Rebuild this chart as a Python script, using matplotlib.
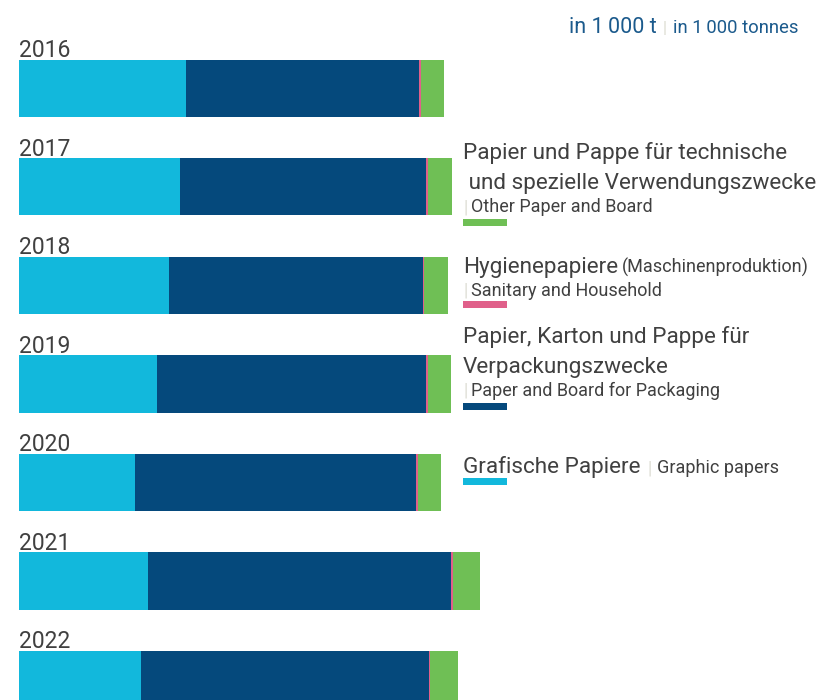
import numpy as np
import matplotlib.pyplot as plt

# production in 1000 t
years = ['2016', '2017', '2018', '2019', '2020', '2021', '2022']
grafisch = [1920, 1852, 1725, 1587, 1334, 1484, 1403]
verpackung = [2680, 2829, 2921, 3094, 3232, 3485, 3312]
hygiene = [23, 23, 12, 23, 23, 23, 12]
technisch = [265, 276, 276, 265, 265, 311, 322]

c_cyan = '#12b8dc'
c_navy = '#05497c'
c_pink = '#e0608a'
c_green = '#6fbf55'
c_text = '#404040'
c_sep = '#dcdcd2'

plt.rcParams['font.family'] = ['Roboto', 'DejaVu Sans']

W, H = 821, 700
fig = plt.figure(figsize=(W / 100, H / 100), dpi=100)
ax = fig.add_axes([0, 0, 1, 1])

k = 11.5  # 1000 t per pixel
y = np.arange(len(years))
left = np.zeros(len(years))
for vals, col in [(grafisch, c_cyan), (verpackung, c_navy), (hygiene, c_pink), (technisch, c_green)]:
    ax.barh(y, vals, left=left, height=0.579, color=col, linewidth=0)
    left = left + np.array(vals)

ax.set_xlim(-19 * k, (W - 19) * k)
ax.set_ylim(6.208, -0.898)
ax.axis('off')

for i, yr in enumerate(years):
    ax.annotate(yr, xy=(0, i - 0.29), xytext=(0, 2), textcoords='offset points',
                fontsize=16.5, color=c_text, va='baseline', ha='left')


def fy(ypx):
    return 1 - ypx / H


def fx(xpx):
    return xpx / W


def after(t, text, ypx, gap=2, **kw):
    return ax.annotate(text, xy=(1, H - ypx), xycoords=(t, 'figure pixels'),
                       xytext=(gap, 0), textcoords='offset points',
                       va='baseline', ha='left', **kw)


big = 16.2
small = 13
lx = 463

# legend: technical / other
fig.text(fx(lx), fy(159), 'Papier und Pappe für technische', fontsize=big, color=c_text, va='baseline')
fig.text(fx(lx), fy(189), ' und spezielle Verwendungszwecke', fontsize=big, color=c_text, va='baseline')
s = fig.text(fx(lx), fy(212), '|', fontsize=small, color=c_sep, va='baseline')
after(s, 'Other Paper and Board', 212, gap=3, fontsize=small, color=c_text)

# hygiene
t = fig.text(fx(lx), fy(273), 'Hygienepapiere', fontsize=big, color=c_text, va='baseline')
after(t, '(Maschinenproduktion)', 273, gap=3, fontsize=small, color=c_text)
s = fig.text(fx(lx), fy(296), '|', fontsize=small, color=c_sep, va='baseline')
after(s, 'Sanitary and Household', 296, gap=3, fontsize=small, color=c_text)

# packaging
fig.text(fx(lx), fy(343), 'Papier, Karton und Pappe für', fontsize=big, color=c_text, va='baseline')
fig.text(fx(lx), fy(373), 'Verpackungszwecke', fontsize=big, color=c_text, va='baseline')
s = fig.text(fx(lx), fy(396), '|', fontsize=small, color=c_sep, va='baseline')
after(s, 'Paper and Board for Packaging', 396, gap=3, fontsize=small, color=c_text)

# graphic
t = fig.text(fx(lx), fy(473), 'Grafische Papiere', fontsize=big, color=c_text, va='baseline')
s = after(t, '|', 473, gap=5, fontsize=small, color=c_sep)
after(s, 'Graphic papers', 473, gap=4, fontsize=small, color=c_text)

# legend swatches
for ytop, col in [(219, c_green), (301, c_pink), (403, c_navy), (478, c_cyan)]:
    fig.patches.append(plt.Rectangle((fx(lx), fy(ytop + 7)), 44 / W, 7 / H,
                                     transform=fig.transFigure, color=col, lw=0))

# unit label
fig.text(fx(798), fy(33), 'in 1\u2009000 tonnes', fontsize=13.3, color='#1b5a8c', va='baseline', ha='right')
fig.text(fx(657), fy(33), 'in 1\u2009000 t', fontsize=15.5, color='#1b5a8c', va='baseline', ha='right')
fig.text(fx(665), fy(33), '|', fontsize=12, color=c_sep, va='baseline', ha='center')

fig.savefig('out.png', dpi=100)
